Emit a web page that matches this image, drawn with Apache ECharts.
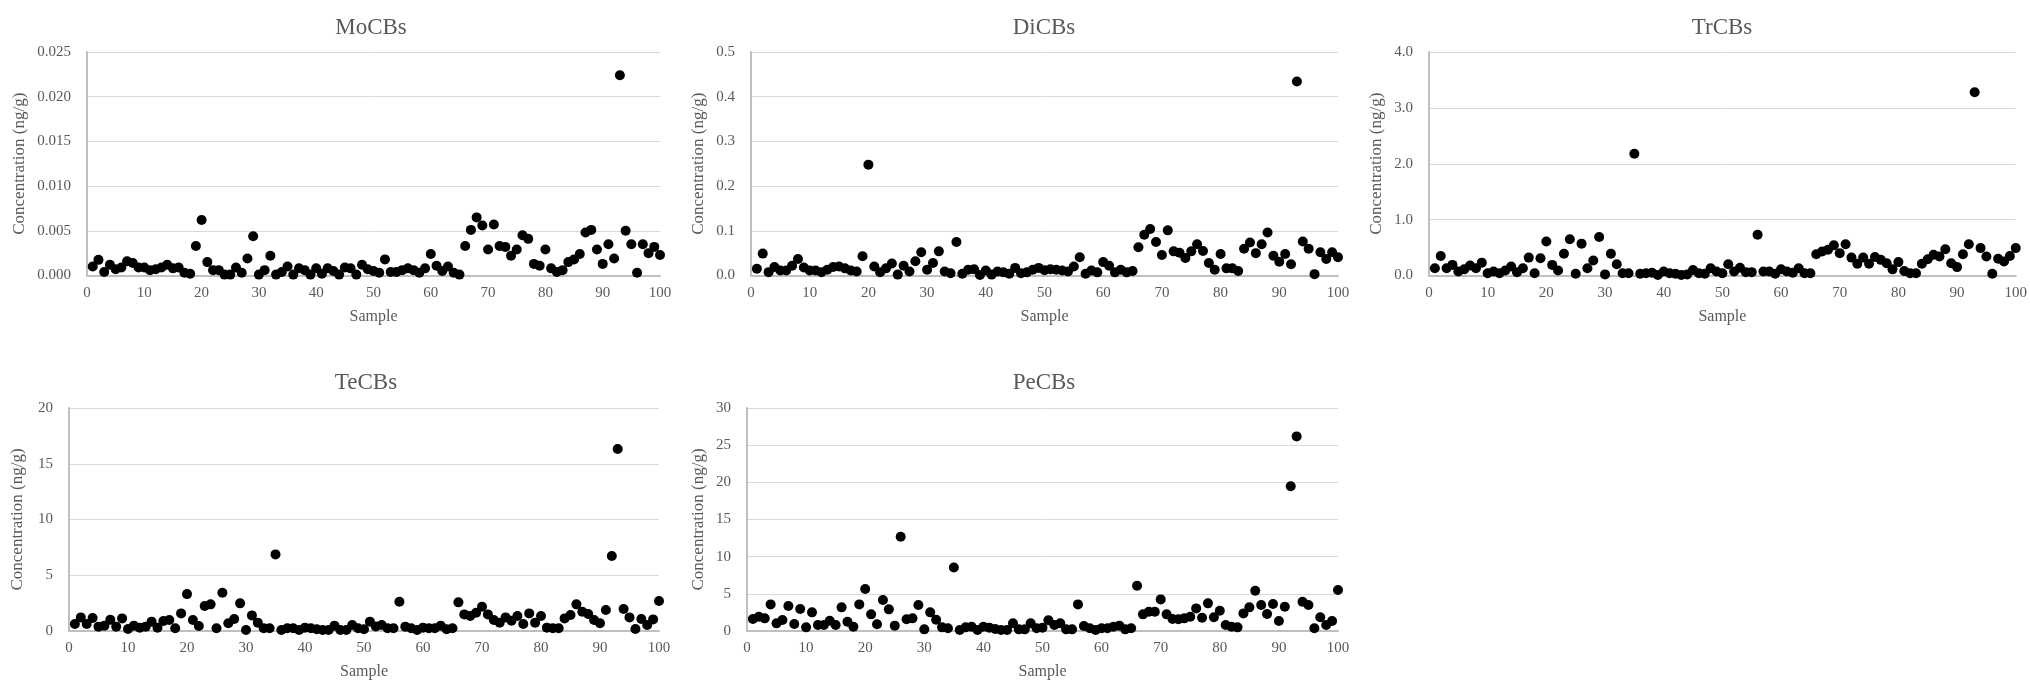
<!DOCTYPE html>
<html>
<head>
<meta charset="utf-8">
<script src="https://cdn.jsdelivr.net/npm/echarts@6/dist/echarts.min.js"></script>
<style>
html,body{margin:0;padding:0;background:#fff;}
#chart{width:2030px;height:682px;}
</style>
</head>
<body>
<div id="chart"></div>
<script>
const samples = [1,2,3,4,5,6,7,8,9,10,11,12,13,14,15,16,17,18,19,20,21,22,23,24,25,26,27,28,29,30,31,32,33,34,35,36,37,38,39,40,41,42,43,44,45,46,47,48,49,50,51,52,53,54,55,56,57,58,59,60,61,62,63,64,65,66,67,68,69,70,71,72,73,74,75,76,77,78,79,80,81,82,83,84,85,86,87,88,89,90,91,92,93,94,95,96,97,98,99,100];

const titles = ["MoCBs", "DiCBs", "TrCBs", "TeCBs", "PeCBs"];

const moCBs = [0.0010,0.00175,0.0004,0.0012,0.0007,0.0009,0.0016,0.0014,0.0009,0.0009,
0.0006,0.0007,0.0009,0.0012,0.0008,0.0009,0.0003,0.0002,0.0033,0.0062,
0.0015,0.0006,0.0006,0.0001,0.0001,0.0009,0.0003,0.0019,0.0044,0.0001,
0.0006,0.0022,0.0001,0.0004,0.0010,0.0001,0.0008,0.0006,0.0001,0.0008,
0.0002,0.0008,0.0005,0.0001,0.0009,0.0008,0.0001,0.0012,0.0007,0.0005,
0.0003,0.0018,0.0004,0.0004,0.0006,0.0008,0.0006,0.0003,0.0008,0.0024,
0.0011,0.0005,0.0010,0.0003,0.0001,0.0033,0.0051,0.0065,0.0056,0.0029,
0.0057,0.0033,0.0032,0.0022,0.0029,0.0045,0.0041,0.0013,0.0011,0.0029,
0.0008,0.0004,0.0006,0.0015,0.0018,0.0024,0.0048,0.0051,0.0029,0.0013,
0.0035,0.0019,0.0224,0.0050,0.0035,0.0003,0.0035,0.0025,0.0032,0.0023];

const diCBs = [0.015,0.049,0.0075,0.019,0.011,0.011,0.022,0.037,0.018,0.011,
0.011,0.0075,0.013,0.019,0.020,0.016,0.011,0.009,0.043,0.248,
0.020,0.0075,0.016,0.027,0.002,0.022,0.009,0.032,0.052,0.013,
0.028,0.054,0.009,0.005,0.075,0.004,0.013,0.014,0.001,0.011,
0.002,0.009,0.007,0.004,0.017,0.005,0.007,0.013,0.017,0.012,
0.014,0.013,0.011,0.009,0.020,0.041,0.004,0.011,0.007,0.030,
0.022,0.007,0.013,0.007,0.010,0.063,0.091,0.104,0.075,0.046,
0.101,0.054,0.051,0.039,0.054,0.070,0.055,0.028,0.013,0.048,
0.016,0.016,0.010,0.060,0.074,0.050,0.070,0.096,0.044,0.031,
0.048,0.025,0.434,0.076,0.060,0.003,0.052,0.037,0.052,0.041];

const trCBs = [0.13,0.35,0.13,0.19,0.07,0.11,0.18,0.13,0.23,0.04,
0.07,0.04,0.09,0.16,0.06,0.13,0.32,0.04,0.31,0.61,
0.19,0.09,0.39,0.65,0.03,0.57,0.13,0.27,0.69,0.02,
0.39,0.20,0.04,0.04,2.18,0.03,0.04,0.05,0.01,0.07,
0.04,0.03,0.01,0.02,0.10,0.04,0.03,0.13,0.07,0.04,
0.20,0.07,0.14,0.06,0.06,0.73,0.07,0.07,0.03,0.11,
0.07,0.05,0.13,0.04,0.04,0.38,0.43,0.46,0.54,0.40,
0.56,0.32,0.21,0.32,0.21,0.33,0.28,0.22,0.11,0.24,
0.08,0.04,0.04,0.21,0.29,0.37,0.34,0.47,0.22,0.15,
0.38,0.56,3.28,0.49,0.34,0.03,0.30,0.25,0.35,0.49];

const teCBs = [0.63,1.22,0.63,1.16,0.39,0.48,1.00,0.39,1.13,0.18,
0.48,0.30,0.39,0.84,0.30,0.90,0.98,0.24,1.58,3.31,
0.98,0.45,2.24,2.39,0.24,3.43,0.69,1.07,2.48,0.09,
1.40,0.75,0.24,0.24,6.87,0.09,0.24,0.24,0.09,0.30,
0.24,0.15,0.09,0.09,0.48,0.09,0.09,0.54,0.24,0.15,
0.84,0.40,0.54,0.24,0.24,2.63,0.39,0.24,0.09,0.30,
0.24,0.24,0.48,0.15,0.24,2.57,1.49,1.34,1.64,2.18,
1.49,0.98,0.75,1.22,0.93,1.34,0.63,1.58,0.75,1.34,
0.30,0.24,0.24,1.13,1.43,2.39,1.73,1.52,0.98,0.69,
1.88,6.72,16.33,1.97,1.22,0.18,1.07,0.54,1.04,2.69];

const peCBs = [1.61,1.92,1.70,3.58,1.03,1.48,3.36,0.94,2.95,0.49,
2.51,0.81,0.81,1.39,0.81,3.18,1.25,0.58,3.58,5.64,
2.24,0.90,4.16,2.91,0.72,12.67,1.57,1.70,3.49,0.22,
2.51,1.52,0.49,0.36,8.55,0.13,0.49,0.58,0.13,0.58,
0.45,0.27,0.13,0.13,1.03,0.22,0.22,1.03,0.36,0.45,
1.44,0.81,1.03,0.22,0.22,3.58,0.67,0.36,0.13,0.36,
0.36,0.58,0.72,0.22,0.36,6.09,2.24,2.60,2.60,4.25,
2.24,1.61,1.57,1.70,1.92,3.04,1.79,3.72,1.84,2.73,
0.81,0.58,0.49,2.37,3.18,5.42,3.49,2.28,3.63,1.34,
3.27,19.47,26.18,3.94,3.49,0.36,1.84,0.81,1.34,5.51];

const seriesValues = [moCBs, diCBs, trCBs, teCBs, peCBs];
const yMax = [0.025, 0.5, 4.0, 20, 30];
const yInterval = [0.005, 0.1, 1.0, 5, 5];
const yDecimals = [3, 1, 1, 0, 0];
const xAxisName = "Sample";
const yAxisName = "Concentration (ng/g)";

// layout (pixels)
const grids = [
  {left: 87,   top: 52,  width: 573, height: 223.5},
  {left: 751,  top: 52,  width: 587, height: 223.5},
  {left: 1429, top: 52,  width: 588, height: 223.5},
  {left: 69,   top: 408, width: 590, height: 223},
  {left: 747,  top: 408, width: 591, height: 223}
];
const titleCenters = [366, 1039, 1717, 361, 1039];
const titleTops = [11, 11, 11, 366, 366];
const yNameGaps = [59, 44, 44, 43, 40];

const FONT = '"Liberation Serif", "Times New Roman", serif';
const TXT = '#595959';

const option = {
  backgroundColor: '#ffffff',
  animation: false,
  title: titles.map((t, i) => ({
    text: t,
    left: titleCenters[i],
    top: titleTops[i],
    textAlign: 'center',
    textStyle: {fontFamily: FONT, fontSize: 23, fontWeight: 'normal', color: TXT}
  })),
  grid: grids.map(g => Object.assign({containLabel: false}, g)),
  xAxis: grids.map((g, i) => ({
    type: 'value', gridIndex: i, min: 0, max: 100, interval: 10,
    name: xAxisName, nameLocation: 'middle', nameGap: 33,
    nameTextStyle: {fontFamily: FONT, fontSize: 16, color: TXT},
    axisLine: {show: true, onZero: false, lineStyle: {color: '#bfbfbf', width: 2}},
    axisTick: {show: false},
    splitLine: {show: false},
    axisLabel: {fontFamily: FONT, fontSize: 15, color: TXT, margin: 10}
  })),
  yAxis: grids.map((g, i) => ({
    type: 'value', gridIndex: i, min: 0, max: yMax[i], interval: yInterval[i],
    name: yAxisName, nameLocation: 'middle', nameGap: yNameGaps[i],
    nameTextStyle: {fontFamily: FONT, fontSize: 17, color: TXT},
    axisLine: {show: true, lineStyle: {color: '#bfbfbf', width: 2}},
    axisTick: {show: false},
    splitLine: {show: true, lineStyle: {color: '#d9d9d9', width: 1}},
    axisLabel: {
      fontFamily: FONT, fontSize: 15, color: TXT, margin: 16,
      formatter: v => Number(v).toFixed(yDecimals[i])
    }
  })),
  series: seriesValues.map((vals, i) => ({
    type: 'scatter', xAxisIndex: i, yAxisIndex: i,
    symbol: 'circle', symbolSize: 10,
    itemStyle: {color: '#000000', opacity: 1},
    data: samples.map((s, k) => [s, vals[k]])
  }))
};

const chart = echarts.init(document.getElementById('chart'), null, {renderer: 'canvas'});
chart.setOption(option);
</script>
</body>
</html>
